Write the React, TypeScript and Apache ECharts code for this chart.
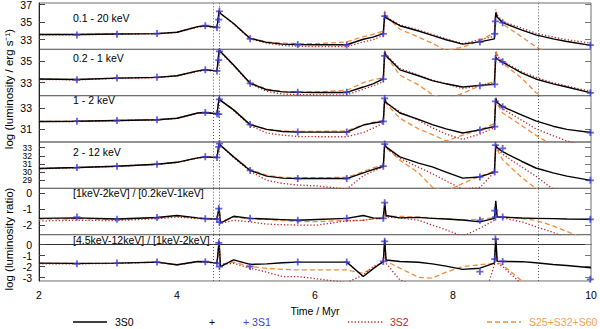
import React, { useEffect, useRef } from "react";
import * as echarts from "echarts";

// ---- time grids (Myr) ----
const T = [2.0, 2.55, 3.13, 3.71, 4.0, 4.3, 4.41, 4.58, 4.61, 4.63, 4.82, 5.06, 5.3, 5.53, 5.75, 6.03, 6.46, 6.7, 6.84, 6.99, 7.01, 7.03, 7.23, 7.5, 7.7, 7.9, 8.14, 8.39, 8.6, 8.62, 8.64, 8.72, 9.0, 9.2, 9.45, 9.65, 10.0];
const T_S1 = [2.55, 3.13, 3.71, 4.41, 4.58, 4.605, 4.615, 5.06, 5.75, 6.46, 6.99, 7.01, 8.39, 8.605, 8.615, 8.72, 9.99];
const VLINES = [4.526, 4.609, 9.236];

// ---- panel labels & ticks ----
const BAND_LABELS = ["0.1 - 20 keV", "0.2 - 1 keV", "1 - 2 keV", "2 - 12 keV", "[1keV-2keV] / [0.2keV-1keV]", "[4.5keV-12keV] / [1keV-2keV]"];
const Y_MIN = [31.9, 31.8, 29.75, 28.0, -2.6, -3.3];
const Y_MAX = [37.2, 36.1, 34.15, 33.7, 0.3, 0.9];
const Y_TICKS = [[33, 35, 37], [33, 35], [31, 33], [29, 30, 31, 32, 33], [0, -1, -2], [0, -1, -2, -3]];
const X_TICKS = [2, 4, 6, 8, 10];

// ---- 3S0 (black) ----
const S0_B1 = [33.59, 33.6, 33.66, 33.7, 33.85, 34.5, 34.6, 34.4, 36.3, 36.0, 34.85, 33.15, 32.7, 32.5, 32.45, 32.42, 32.42, 33.05, 33.3, 33.7, 35.85, 35.5, 34.6, 34.0, 33.5, 33.0, 32.5, 32.75, 33.1, 36.05, 35.6, 34.95, 34.1, 33.55, 33.1, 32.8, 32.35];
const S0_B2 = [33.34, 33.3, 33.43, 33.5, 33.65, 34.1, 34.2, 34.1, 36.05, 35.9, 34.64, 32.95, 32.35, 32.15, 32.12, 32.1, 32.1, 32.6, 32.9, 33.35, 35.85, 35.5, 34.2, 33.65, 33.2, 32.9, 32.6, 32.75, 32.85, 35.4, 35.2, 34.9, 33.9, 33.35, 32.9, 32.6, 32.06];
const S0_B3 = [31.7, 31.72, 31.79, 31.86, 32.0, 32.5, 32.55, 32.43, 33.95, 33.7, 32.8, 31.4, 30.95, 30.75, 30.69, 30.69, 30.69, 31.35, 31.55, 31.7, 33.9, 33.5, 32.5, 31.9, 31.4, 31.0, 30.6, 30.9, 31.22, 33.85, 33.5, 33.1, 32.3, 31.75, 31.25, 30.95, 30.65];
const S0_B4 = [30.43, 30.56, 30.72, 30.97, 31.2, 31.75, 31.87, 31.8, 33.5, 33.3, 31.87, 30.2, 29.5, 29.25, 29.2, 29.2, 29.2, 29.9, 30.3, 30.72, 33.45, 33.1, 31.87, 31.1, 30.63, 30.0, 29.25, 29.4, 30.0, 33.3, 33.0, 32.5, 31.3, 30.5, 29.9, 29.5, 28.98];
const S0_R1 = [-1.58, -1.55, -1.62, -1.53, -1.4, -1.55, -1.6, -1.62, -0.91, -1.88, -1.45, -1.58, -1.62, -1.66, -1.7, -1.65, -1.58, -1.4, -1.55, -1.58, -0.6, -1.4, -1.55, -1.52, -1.58, -1.62, -1.68, -1.8, -1.58, -0.48, -1.5, -1.5, -1.56, -1.58, -1.6, -1.62, -1.64];
const S0_R2 = [-1.68, -1.7, -1.68, -1.59, -1.83, -1.53, -1.55, -1.68, 0.3, -1.99, -1.38, -1.8, -1.75, -1.65, -1.59, -1.59, -1.59, -2.9, -2.2, -1.53, 0.46, -1.4, -1.53, -1.6, -1.75, -1.95, -2.25, -2.14, -1.68, 0.6, -1.5, -1.53, -1.55, -1.65, -1.8, -1.9, -2.1];

// ---- 3S2 (red dotted) ----
const S2_B1 = [33.55, 33.57, 33.63, 33.68, 33.82, 34.45, 34.55, 34.35, 36.3, 36.0, 34.8, 33.1, 32.6, 32.35, 32.25, 32.2, 32.2, 32.75, 33.0, 33.5, 36.1, 35.6, 34.7, 34.1, 33.6, 33.1, 32.55, 33.0, 33.4, 36.45, 35.8, 35.1, 34.3, 33.75, 33.3, 33.0, 32.6];
const S2_B2 = [33.3, 33.27, 33.4, 33.47, 33.62, 34.05, 34.15, 34.05, 36.0, 35.8, 34.6, 32.9, 32.2, 31.95, 31.9, 31.88, 31.88, 32.4, 32.7, 33.1, 35.9, 35.6, 34.33, 33.7, 33.25, 32.9, 32.45, 32.75, 33.0, 35.85, 35.5, 35.0, 34.0, 33.5, 33.0, 32.7, 32.2];
const S2_B3 = [31.68, 31.7, 31.77, 31.84, 31.98, 32.48, 32.53, 32.4, 33.95, 33.7, 32.75, 31.3, 30.6, 30.4, 30.27, 30.25, 30.25, 30.65, 31.05, 31.55, 33.95, 33.5, 32.6, 31.8, 31.1, 30.5, 30.0, 30.5, 31.1, 33.9, 33.5, 32.9, 31.8, 31.0, 30.35, 29.85, 29.2];
const S2_B4 = [30.4, 30.53, 30.7, 30.95, 31.18, 31.72, 31.85, 31.78, 33.5, 33.3, 31.8, 30.1, 29.0, 28.6, 28.4, 28.3, 27.9, 29.55, 30.1, 30.63, 33.5, 33.0, 31.7, 30.6, 29.8, 28.9, 27.9, 28.1, 30.0, 33.4, 32.9, 32.2, 30.6, 29.5, 27.9, 27.3, 26.5];
const S2_R1 = [-1.74, -1.7, -1.72, -1.6, -1.5, -1.6, -1.62, -1.65, -1.0, -1.9, -1.7, -1.8, -1.94, -1.98, -2.0, -2.0, -1.74, -1.7, -1.6, -1.58, -0.8, -1.5, -1.55, -1.7, -2.0, -2.3, -2.7, -2.2, -1.7, -1.0, -1.5, -1.55, -1.8, -2.1, -2.45, -2.85, -3.4];
const S2_R2 = [-1.75, -1.75, -1.7, -1.6, -1.85, -1.55, -1.6, -1.7, 0.2, -1.8, -1.7, -2.14, -2.5, -2.9, -2.9, -3.1, -3.45, -2.75, -2.0, -1.6, 0.3, -1.7, -3.2, -3.8, -4.0, -4.0, -4.5, -6.0, -1.83, 0.3, -1.7, -2.0, -3.6, -4.0, -4.5, -5.0, -5.5];

// ---- S25+S32+S60 (orange dashed) ----
const S25_B1 = [33.6, 33.62, 33.66, 33.7, 33.85, 34.5, 34.6, 34.42, 36.4, 36.0, 34.85, 33.2, 32.75, 32.6, 32.55, 32.55, 32.75, 33.35, 33.6, 34.0, 36.3, 35.7, 34.2, 33.3, 32.6, 31.75, 32.15, 32.9, 33.8, 36.3, 35.8, 34.8, 33.3, 32.2, 31.2, 30.5, 29.5];
const S25_B2 = [33.34, 33.3, 33.43, 33.5, 33.65, 34.1, 34.2, 34.1, 36.1, 35.9, 34.6, 33.0, 32.4, 32.2, 32.15, 32.15, 32.3, 33.0, 33.27, 33.45, 36.0, 35.5, 33.7, 32.8, 31.9, 31.5, 32.0, 32.73, 33.1, 36.0, 35.6, 34.8, 33.4, 32.1, 31.0, 30.3, 29.2];
const S25_B3 = [31.7, 31.72, 31.79, 31.86, 32.0, 32.5, 32.55, 32.43, 34.0, 33.7, 32.85, 31.4, 30.95, 30.8, 30.75, 30.75, 30.8, 31.4, 31.6, 31.8, 34.0, 33.4, 32.0, 31.0, 30.45, 29.85, 30.4, 30.9, 31.5, 34.0, 33.4, 32.5, 31.3, 30.4, 29.4, 28.8, 28.0];
const S25_B4 = [30.43, 30.56, 30.72, 30.97, 31.2, 31.75, 31.87, 31.8, 33.6, 33.3, 31.9, 30.3, 29.6, 29.35, 29.3, 29.3, 29.35, 30.05, 30.5, 30.85, 33.6, 33.0, 31.46, 29.9, 28.15, 27.6, 28.6, 29.48, 30.1, 33.5, 32.8, 31.5, 29.3, 28.0, 27.0, 26.3, 25.5];
const S25_R1 = [-1.62, -1.6, -1.65, -1.55, -1.45, -1.58, -1.6, -1.63, -0.95, -1.8, -1.5, -1.6, -1.65, -1.72, -1.78, -1.78, -1.72, -1.7, -1.62, -1.58, -0.9, -1.45, -1.45, -1.5, -1.55, -1.6, -1.7, -1.62, -1.55, -1.0, -1.45, -1.5, -1.6, -1.7, -2.05, -2.4, -3.0];
const S25_R2 = [-1.7, -1.72, -1.7, -1.6, -1.85, -1.55, -1.58, -1.7, 0.2, -1.8, -1.6, -1.99, -2.15, -2.25, -2.3, -2.3, -2.3, -2.6, -2.1, -1.6, 0.2, -1.5, -2.14, -2.97, -3.05, -2.5, -2.0, -1.83, -1.7, 0.2, -1.6, -1.85, -3.3, -3.8, -4.3, -4.8, -5.5];

// ---- 3S1 (blue plus markers) ----
const S1_B1 = [33.55, 33.63, 33.7, 34.6, 34.4, 35.3, 36.25, 33.1, 32.45, 32.4, 33.67, 35.7, 32.73, 33.67, 35.1, 34.95, 32.37];
const S1_B2 = [33.27, 33.43, 33.52, 34.2, 34.1, 35.1, 35.9, 32.95, 32.12, 32.12, 33.34, 35.5, 32.73, 32.85, 35.2, 34.94, 32.06];
const S1_B3 = [31.72, 31.79, 31.86, 32.55, 32.43, 32.4, 33.8, 31.4, 30.69, 30.69, 31.7, 33.9, 30.9, 31.22, 33.6, 33.1, 30.65];
const S1_B4 = [30.56, 30.72, 30.97, 31.87, 31.8, 33.1, 33.5, 30.2, 29.2, 29.2, 30.72, 33.45, 29.4, 30.0, 33.3, 32.9, 28.98];
const S1_R1 = [-1.5, -1.64, -1.53, -1.6, -1.62, -0.97, -1.82, -1.58, -1.7, -1.58, -1.58, -0.6, -1.7, -1.09, -1.5, -1.5, -1.64];
const S1_R2 = [-1.74, -1.68, -1.59, -1.55, -1.68, 0.16, -1.99, -1.99, -1.59, -1.59, -1.53, 0.3, -2.45, -1.31, 0.5, -1.53, -3.15];

const S0 = [S0_B1, S0_B2, S0_B3, S0_B4, S0_R1, S0_R2];
const S2 = [S2_B1, S2_B2, S2_B3, S2_B4, S2_R1, S2_R2];
const S25 = [S25_B1, S25_B2, S25_B3, S25_B4, S25_R1, S25_R2];
const S1 = [S1_B1, S1_B2, S1_B3, S1_B4, S1_R1, S1_R2];

const FONT = "'Liberation Sans', Arial, Helvetica, sans-serif";
const C_BLACK = "#000000";
const C_RED = "#c0282d";
const C_ORANGE = "#f08c3c";
const C_ORANGE_TXT = "#f4a04e";
const C_BLUE = "#3c3cd2";
const PLUS = "path://M3,0H5V3H8V5H5V8H3V5H0V3H3Z";

const GRID_LEFT = 39;
const GRID_W = 552;
const GRID_TOP0 = 3;
const GRID_H = 46.33;

function buildOption() {
  const n = 6;
  const grids: any[] = [];
  const xAxes: any[] = [];
  const yAxes: any[] = [];
  const series: any[] = [];
  const graphics: any[] = [];

  for (let i = 0; i < n; i++) {
    const top = GRID_TOP0 + i * GRID_H;
    grids.push({
      left: GRID_LEFT,
      top,
      width: GRID_W,
      height: GRID_H,
      show: true,
      borderColor: "#6f6f6f",
      borderWidth: 1,
      backgroundColor: "transparent",
      containLabel: false,
      outerBoundsMode: "none",
    });
    const last = i === n - 1;
    xAxes.push({
      type: "value",
      gridIndex: i,
      min: 2,
      max: 10,
      interval: 2,
      axisLine: { show: last, lineStyle: { color: "#333" } },
      axisTick: { show: false },
      splitLine: { show: false },
      axisLabel: {
        show: last,
        customValues: X_TICKS,
        margin: 9,
        fontSize: 10.5,
        color: "#000",
        fontFamily: FONT,
        hideOverlap: false,
      },
      name: last ? "Time / Myr" : "",
      nameLocation: "middle",
      nameGap: 25,
      nameTextStyle: { fontSize: 10.5, color: "#000", fontFamily: FONT },
    });
  }

  // left axes (one per panel). The dense panel (2-12 keV) shows every other label here,
  // the remaining labels are carried by an extra overlaid axis so none get auto-hidden.
  const denseIdx = 3;
  const denseA = Y_TICKS[denseIdx].filter((_, k) => k % 2 === 0);
  const denseB = Y_TICKS[denseIdx].filter((_, k) => k % 2 === 1);
  for (let i = 0; i < n; i++) {
    const dense = i === denseIdx;
    yAxes.push({
      type: "value",
      gridIndex: i,
      position: "left",
      min: Y_MIN[i],
      max: Y_MAX[i],
      axisLine: { show: true, onZero: false, lineStyle: { color: "#222" } },
      axisTick: { show: true, inside: true, length: 6, customValues: Y_TICKS[i], lineStyle: { color: "#444" } },
      axisLabel: {
        show: true,
        customValues: dense ? denseA : Y_TICKS[i],
        margin: 7,
        fontSize: dense ? 8.5 : 10.5,
        color: "#000",
        fontFamily: FONT,
        hideOverlap: false,
      },
      splitLine: { show: false },
    });
  }
  for (let i = 0; i < n; i++) {
    yAxes.push({
      type: "value",
      gridIndex: i,
      position: "right",
      min: Y_MIN[i],
      max: Y_MAX[i],
      axisLine: { show: false },
      axisTick: { show: true, inside: true, length: 6, customValues: Y_TICKS[i], lineStyle: { color: "#777" } },
      axisLabel: { show: false },
      splitLine: { show: false },
    });
  }
  yAxes.push({
    type: "value",
    gridIndex: denseIdx,
    position: "left",
    offset: 0,
    min: Y_MIN[denseIdx],
    max: Y_MAX[denseIdx],
    axisLine: { show: false },
    axisTick: { show: false },
    axisLabel: {
      show: true,
      customValues: denseB,
      margin: 7,
      fontSize: 8.5,
      color: "#000",
      fontFamily: FONT,
      hideOverlap: false,
    },
    splitLine: { show: false },
  });

  for (let i = 0; i < n; i++) {
    series.push({
      name: "S25+S32+S60",
      type: "line",
      xAxisIndex: i,
      yAxisIndex: i,
      data: T.map((t, j) => [t, S25[i][j]]),
      showSymbol: false,
      symbol: "none",
      clip: true,
      z: 2,
      lineStyle: { color: C_ORANGE, width: 1.3, type: [5, 3] },
      silent: true,
    });
    series.push({
      name: "3S2",
      type: "line",
      xAxisIndex: i,
      yAxisIndex: i,
      data: T.map((t, j) => [t, S2[i][j]]),
      showSymbol: false,
      symbol: "none",
      clip: true,
      z: 3,
      lineStyle: { color: C_RED, width: 1.3, type: [1.3, 2] },
      silent: true,
    });
    series.push({
      name: "3S0",
      type: "line",
      xAxisIndex: i,
      yAxisIndex: i,
      data: T.map((t, j) => [t, S0[i][j]]),
      showSymbol: false,
      symbol: "none",
      clip: true,
      z: 4,
      lineStyle: { color: C_BLACK, width: 1.4 },
      silent: true,
      markLine: {
        silent: true,
        symbol: ["none", "none"],
        label: { show: false },
        lineStyle: { color: "#555", width: 1, type: [1, 2] },
        emphasis: { disabled: true },
        data: VLINES.map((v) => ({ xAxis: v })),
      },
    });
    series.push({
      name: "3S1",
      type: "scatter",
      xAxisIndex: i,
      yAxisIndex: i,
      data: T_S1.map((t, j) => [t, S1[i][j]]),
      symbol: PLUS,
      symbolSize: 7,
      clip: true,
      z: 5,
      itemStyle: { color: C_BLUE },
      silent: true,
    });
  }

  // panel labels
  const LABEL_Y = [18, 58, 100, 151.5, 193, 240];
  BAND_LABELS.forEach((txt, i) => {
    graphics.push({
      type: "text",
      x: 73,
      y: LABEL_Y[i],
      style: {
        text: txt,
        fill: "#000",
        font: `10.5px ${FONT}`,
        align: "left",
        verticalAlign: "middle",
        textAlign: "left",
        textVerticalAlign: "middle",
      },
    });
  });

  // y titles
  const yTitle = (txt: string, cy: number) => ({
    type: "text",
    x: 9,
    y: cy,
    rotation: Math.PI / 2,
    style: {
      text: txt,
      fill: "#000",
      font: `11.5px ${FONT}`,
      align: "center",
      verticalAlign: "middle",
      textAlign: "center",
      textVerticalAlign: "middle",
    },
  });
  graphics.push(yTitle("log (luminosity / erg s\u207B\u00B9)", 89));
  graphics.push(yTitle("log (luminosity ratio)", 239));

  // legend
  const LY = 322;
  const txt = (s: string, x: number, fill: string, align = "left") => ({
    type: "text",
    x,
    y: LY,
    style: {
      text: s,
      fill,
      font: `10.5px ${FONT}`,
      align,
      verticalAlign: "middle",
      textAlign: align,
      textVerticalAlign: "middle",
    },
  });
  graphics.push({ type: "line", shape: { x1: 73, y1: LY, x2: 107, y2: LY }, style: { stroke: C_BLACK, lineWidth: 1.4 } });
  graphics.push(txt("3S0", 115, "#000"));
  graphics.push(txt("+", 212, "#000", "center"));
  graphics.push(txt("+ 3S1", 243, C_BLUE));
  graphics.push({ type: "line", shape: { x1: 348, y1: LY, x2: 384, y2: LY }, style: { stroke: C_RED, lineWidth: 1.3, lineDash: [1.3, 2] } });
  graphics.push(txt("3S2", 390, C_RED));
  graphics.push({ type: "line", shape: { x1: 487, y1: LY, x2: 521, y2: LY }, style: { stroke: C_ORANGE, lineWidth: 1.3, lineDash: [5, 3] } });
  graphics.push(txt("S25+S32+S60", 529, C_ORANGE_TXT));

  return {
    animation: false,
    backgroundColor: "#ffffff",
    textStyle: { fontFamily: FONT },
    grid: grids,
    xAxis: xAxes,
    yAxis: yAxes,
    series,
    graphic: graphics,
  };
}

export default function App() {
  const ref = useRef<HTMLDivElement>(null);
  useEffect(() => {
    if (!ref.current) return;
    const chart = echarts.init(ref.current, null, { renderer: "svg" });
    chart.setOption(buildOption() as any);
    return () => chart.dispose();
  }, []);
  return (
    <div
      ref={ref}
      style={{ position: "absolute", left: 0, top: 0, width: 600, height: 329, background: "#fff" }}
    />
  );
}
